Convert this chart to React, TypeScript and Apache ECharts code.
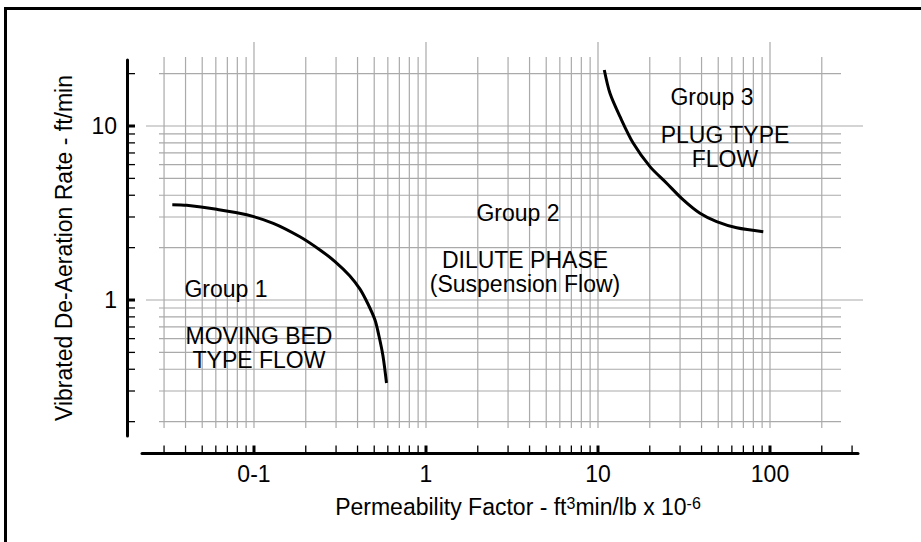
import React, { useEffect, useRef } from "react";
import * as echarts from "echarts";

// ---- axis ranges (log scales) ----
const xAxisMin = 0.02233;
const xAxisMax = 324.8;
const yAxisMin = 0.1654;
const yAxisMax = 23.95;

// ---- tick / grid values ----
const xTickValues = [
  0.03, 0.04, 0.05, 0.06, 0.07, 0.08, 0.09, 0.1,
  0.2, 0.3, 0.4, 0.5, 0.6, 0.7, 0.8, 0.9, 1,
  2, 3, 4, 5, 6, 7, 8, 9, 10,
  20, 30, 40, 50, 60, 70, 80, 90, 100,
  200, 300,
];
const xGridValues = [
  0.03, 0.04, 0.05, 0.06, 0.07, 0.08, 0.09, 0.1,
  0.2, 0.3, 0.4, 0.5, 0.6, 0.7, 0.8, 0.9, 1,
  2, 3, 4, 5, 6, 7, 8, 9, 10,
  20, 30, 40, 50, 60, 70, 80, 90, 100,
  200,
];
const xMajorValues = [0.1, 1, 10, 100];
const xTickLabels = ["0-1", "1", "10", "100"];

const yTickValues = [
  0.2, 0.3, 0.4, 0.5, 0.6, 0.7, 0.8, 0.9, 1,
  2, 3, 4, 5, 6, 7, 8, 9, 10, 20,
];
const yGridValues = yTickValues;
const yMajorValues = [1, 10];
const yTickLabels = ["1", "10"];

// ---- boundary curves ----
const group1Permeability = [0.0335, 0.0406, 0.0607, 0.0907, 0.1295, 0.185, 0.242, 0.2958, 0.36, 0.4133, 0.46, 0.5053, 0.5329, 0.5623, 0.5894];
const group1Deaeration = [3.53, 3.5, 3.32, 3.09, 2.76, 2.31, 1.94, 1.664, 1.38, 1.155, 0.9485, 0.767, 0.621, 0.4767, 0.3334];

const group3Permeability = [10.88, 11.74, 13.43, 16.04, 20.06, 25.08, 31.33, 39.17, 48.98, 64.03, 91.4];
const group3Deaeration = [20.98, 15.41, 11.31, 7.95, 5.84, 4.69, 3.76, 3.15, 2.82, 2.6, 2.47];

const FONT = '"Liberation Sans", Arial, Helvetica, sans-serif';
const GRID_COLOR = "#aaaaaa";

const isIn = (arr: number[], v: number) => arr.some((m) => Math.abs(Math.log10(m) - Math.log10(v)) < 1e-6);
const labelFor = (vals: number[], labels: string[], v: number) => {
  for (let i = 0; i < vals.length; i++) {
    if (Math.abs(Math.log10(vals[i]) - Math.log10(v)) < 1e-6) return labels[i];
  }
  return "";
};

function text(str: string, x: number, y: number, lineHeight = 24) {
  return {
    type: "text",
    x,
    y,
    silent: true,
    z: 10,
    style: {
      text: str,
      fill: "#000",
      fontSize: 23,
      lineHeight,
      fontFamily: FONT,
      align: "center",
      verticalAlign: "middle",
      textAlign: "center",
      textVerticalAlign: "middle",
    },
  };
}

export default function App() {
  const ref = useRef<HTMLDivElement>(null);

  useEffect(() => {
    if (!ref.current) return;
    const chart = echarts.init(ref.current, null, { renderer: "svg" });

    const option: any = {
      animation: false,
      backgroundColor: "#ffffff",
      grid: { left: 142, top: 60, width: 716, height: 376, containLabel: false },
      xAxis: {
        type: "log",
        logBase: 10,
        min: xAxisMin,
        max: xAxisMax,
        offset: 17,
        name: "Permeability Factor - ft{sup|3}min/lb x 10{sup|-6}",
        nameLocation: "middle",
        nameGap: 42,
        nameTextStyle: {
          fontSize: 23,
          fontFamily: FONT,
          color: "#000",
          padding: [0, 0, 0, 36],
          rich: { sup: { fontSize: 16, fontFamily: FONT, color: "#000", verticalAlign: "top" } },
        },
        axisLine: { show: true, lineStyle: { color: "#000", width: 3 } },
        axisTick: { show: false },
        splitLine: { show: false },
        minorSplitLine: { show: false },
        axisLabel: {
          show: true,
          margin: 9,
          fontSize: 23,
          fontFamily: FONT,
          color: "#000",
          formatter: (v: number) => labelFor(xMajorValues, xTickLabels, v),
        },
      },
      yAxis: {
        type: "log",
        logBase: 10,
        min: yAxisMin,
        max: yAxisMax,
        offset: 15,
        name: "Vibrated De-Aeration Rate - ft/min",
        nameLocation: "middle",
        nameGap: 52,
        nameTextStyle: { fontSize: 23, fontFamily: FONT, color: "#000" },
        axisLine: { show: true, lineStyle: { color: "#000", width: 3 } },
        axisTick: { show: false },
        splitLine: { show: false },
        minorSplitLine: { show: false },
        axisLabel: {
          show: true,
          margin: 10,
          fontSize: 23,
          fontFamily: FONT,
          color: "#000",
          formatter: (v: number) => labelFor(yMajorValues, yTickLabels, v),
        },
      },
      graphic: [
        {
          type: "rect",
          silent: true,
          shape: { x: 5.5, y: 8.5, width: 1000, height: 1000 },
          style: { fill: "none", stroke: "#000", lineWidth: 3 },
        },
        text("Group 1", 226, 289),
        text("MOVING BED\nTYPE FLOW", 259, 348, 24.5),
        text("Group 2", 518, 213),
        text("DILUTE PHASE\n(Suspension Flow)", 525, 272, 24),
        text("Group 3", 712, 97),
        text("PLUG TYPE\nFLOW", 725, 147, 24.5),
      ],
      series: [
        // vertical grid lines
        {
          type: "custom",
          coordinateSystem: "cartesian2d",
          silent: true,
          z: 1,
          data: xGridValues.map((v) => [v, 1]),
          renderItem: (params: any, api: any) => {
            const v = api.value(0);
            const x = api.coord([v, 1])[0];
            const cs = params.coordSys;
            const major = isIn(xMajorValues, v);
            return {
              type: "line",
              shape: { x1: x, y1: cs.y - (major ? 18 : 3), x2: x, y2: cs.y + cs.height - 8 },
              style: { stroke: GRID_COLOR, lineWidth: 1.2 },
            };
          },
        },
        // horizontal grid lines
        {
          type: "custom",
          coordinateSystem: "cartesian2d",
          silent: true,
          z: 1,
          data: yGridValues.map((v) => [1, v]),
          renderItem: (params: any, api: any) => {
            const v = api.value(1);
            const y = api.coord([1, v])[1];
            const cs = params.coordSys;
            const major = isIn(yMajorValues, v);
            return {
              type: "line",
              shape: {
                x1: cs.x + (major ? 4 : 17),
                y1: y,
                x2: cs.x + cs.width + (major ? 5 : -17),
                y2: y,
              },
              style: { stroke: GRID_COLOR, lineWidth: 1.2 },
            };
          },
        },
        // x axis ticks
        {
          type: "custom",
          coordinateSystem: "cartesian2d",
          silent: true,
          z: 3,
          data: xTickValues.map((v) => [v, 1]),
          renderItem: (params: any, api: any) => {
            const v = api.value(0);
            const x = api.coord([v, 1])[0];
            const cs = params.coordSys;
            const major = isIn(xMajorValues, v);
            const base = cs.y + cs.height + 17;
            return {
              type: "line",
              shape: { x1: x, y1: base, x2: x, y2: base - 7.5 },
              style: { stroke: "#000", lineWidth: major ? 3 : 1.3 },
            };
          },
        },
        // y axis ticks
        {
          type: "custom",
          coordinateSystem: "cartesian2d",
          silent: true,
          z: 3,
          data: yTickValues.map((v) => [1, v]),
          renderItem: (params: any, api: any) => {
            const v = api.value(1);
            const y = api.coord([1, v])[1];
            const cs = params.coordSys;
            const major = isIn(yMajorValues, v);
            const base = cs.x - 15;
            return {
              type: "line",
              shape: { x1: base, y1: y, x2: base + 8, y2: y },
              style: { stroke: "#000", lineWidth: major ? 3 : 1.3 },
            };
          },
        },
        {
          name: "Group 1 boundary",
          type: "line",
          z: 5,
          smooth: 0.3,
          showSymbol: false,
          symbol: "none",
          lineStyle: { color: "#000", width: 3 },
          data: group1Permeability.map((x, i) => [x, group1Deaeration[i]]),
        },
        {
          name: "Group 3 boundary",
          type: "line",
          z: 5,
          smooth: 0.3,
          showSymbol: false,
          symbol: "none",
          lineStyle: { color: "#000", width: 3 },
          data: group3Permeability.map((x, i) => [x, group3Deaeration[i]]),
        },
      ],
    };

    chart.setOption(option);
    return () => chart.dispose();
  }, []);

  return (
    <div
      ref={ref}
      style={{ position: "absolute", left: 0, top: 0, width: 921, height: 542, background: "#fff" }}
    />
  );
}
